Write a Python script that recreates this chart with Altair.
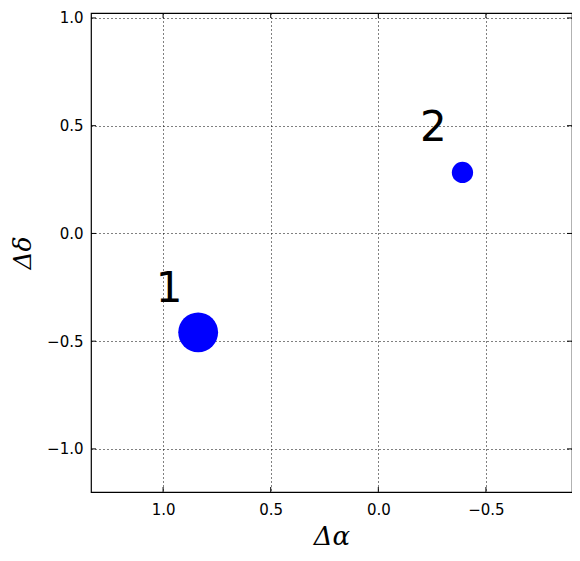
import altair as alt
import pandas as pd

# data
src_x = [0.837, -0.391]
src_y = [-0.459, 0.283]
src_size = [1590, 452]
lab_text = ["1", "2"]
lab_x = [0.972, -0.256]
lab_y = [-0.316, 0.427]
x_ticks = [1.0, 0.5, 0.0, -0.5]
y_ticks = [1.0, 0.5, 0.0, -0.5, -1.0]

W, H = 481, 479
xdom = [-0.9, 1.335]
ydom = [-1.2, 1.023]

pts = pd.DataFrame({"x": src_x, "y": src_y, "s": src_size})
labs = pd.DataFrame({"x": lab_x, "y": lab_y, "t": lab_text})
xt = pd.DataFrame({"v": x_ticks})
yt = pd.DataFrame({"v": y_ticks})

xscale = alt.Scale(domain=xdom, reverse=True, nice=False, zero=False)
yscale = alt.Scale(domain=ydom, nice=False, zero=False)

xaxis = alt.Axis(values=x_ticks, format=".1f", title="Δα", grid=True,
                 gridColor="black", gridDash=[1, 3], gridOpacity=1, gridWidth=1,
                 tickSize=0, domain=False, labelPadding=10, labelFontSize=15,
                 labelFont="DejaVu Sans", labelColor="black",
                 titleFont="DejaVu Serif", titleFontStyle="italic", titleFontWeight="normal",
                 titleFontSize=26, titlePadding=6, titleColor="black")
yaxis = alt.Axis(values=y_ticks, format=".1f", title="Δδ", grid=True,
                 gridColor="black", gridDash=[1, 3], gridOpacity=1, gridWidth=1,
                 tickSize=0, domain=False, labelPadding=8, labelFontSize=15,
                 labelFont="DejaVu Sans", labelColor="black",
                 titleFont="DejaVu Serif", titleFontStyle="italic", titleFontWeight="normal",
                 titleFontSize=25, titlePadding=11, titleColor="black")

points = alt.Chart(pts).mark_circle(color="#0000ff", opacity=1).encode(
    x=alt.X("x:Q", scale=xscale, axis=xaxis),
    y=alt.Y("y:Q", scale=yscale, axis=yaxis),
    size=alt.Size("s:Q", scale=None, legend=None),
)

labels = alt.Chart(labs).mark_text(fontSize=42, font="DejaVu Sans", color="black",
                                   align="center", baseline="alphabetic").encode(
    x=alt.X("x:Q", scale=xscale),
    y=alt.Y("y:Q", scale=yscale),
    text="t:N",
)

tk = dict(color="black", thickness=1, size=5, opacity=1)
xb = alt.Chart(xt).mark_tick(**tk).encode(x=alt.X("v:Q", scale=xscale), y=alt.value(H - 2.5))
xtop = alt.Chart(xt).mark_tick(**tk).encode(x=alt.X("v:Q", scale=xscale), y=alt.value(2.5))
yl = alt.Chart(yt).mark_tick(**tk).encode(y=alt.Y("v:Q", scale=yscale), x=alt.value(2.5))
yr = alt.Chart(yt).mark_tick(**tk).encode(y=alt.Y("v:Q", scale=yscale), x=alt.value(W - 2.5))

chart = alt.layer(points, labels, xb, xtop, yl, yr).properties(
    width=W, height=H,
    autosize=alt.AutoSizeParams(type="none"),
    padding={"left": 83, "top": 5, "right": 0, "bottom": 60},
).configure(background="white").configure_view(stroke="black", strokeWidth=1.2)

chart.save("out.html", embed_options={"renderer": "svg", "actions": False})
